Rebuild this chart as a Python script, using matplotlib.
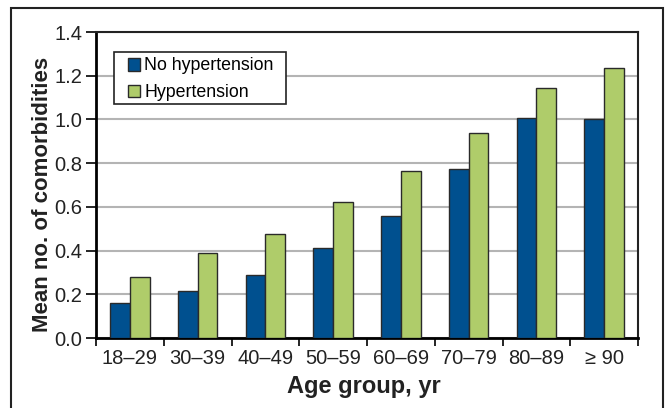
import matplotlib.pyplot as plt
import numpy as np
from matplotlib.patches import Rectangle

plt.rcParams['font.family'] = ['Liberation Sans', 'DejaVu Sans']

# Dados
grupos = ["18–29", "30–39", "40–49", "50–59", "60–69", "70–79", "80–89", "≥ 90"]
sem_hipertensao = [0.16, 0.214, 0.287, 0.41, 0.56, 0.773, 1.008, 1.0]
com_hipertensao = [0.278, 0.387, 0.474, 0.62, 0.764, 0.936, 1.142, 1.234]
rotulos_series = ["No hypertension", "Hypertension"]

azul = "#00508f"
verde = "#afcc6a"

W, H = 667, 408
fig = plt.figure(figsize=(W / 100, H / 100), dpi=100)
ax = fig.add_axes([96 / W, 1 - 338 / H, 542 / W, 306 / H])

x = np.arange(len(grupos))
largura = 0.29
ax.bar(x - largura / 2, sem_hipertensao, largura, color=azul, edgecolor="#2a2a2a",
       linewidth=1.0, label=rotulos_series[0], zorder=3)
ax.bar(x + largura / 2, com_hipertensao, largura, color=verde, edgecolor="#2a2a2a",
       linewidth=1.0, label=rotulos_series[1], zorder=3)

ax.set_xlim(-0.5, len(grupos) - 0.5)
ax.set_ylim(0, 1.4)
ax.set_yticks(np.arange(0, 1.41, 0.2))
ax.set_yticklabels([f"{v:.1f}" for v in np.arange(0, 1.41, 0.2)])
ax.yaxis.grid(True, color="#b4b4b4", linewidth=1.5, zorder=0)

# Ticks do eixo x nos limites das categorias
ax.set_xticks(np.arange(-0.5, len(grupos), 1.0))
ax.set_xticklabels([])
ax.set_xticks(x, minor=True)
ax.set_xticklabels(grupos, minor=True)
ax.tick_params(axis="x", which="minor", length=0, pad=8, labelsize=14.5, labelcolor="#222222")
ax.tick_params(axis="x", which="major", length=6, width=1.2, direction="out")
ax.tick_params(axis="y", length=7, width=1.2, labelsize=14.5, labelcolor="#222222", pad=3)

for lado in ["left", "bottom"]:
    ax.spines[lado].set_linewidth(2)
    ax.spines[lado].set_color("black")
for lado in ["top", "right"]:
    ax.spines[lado].set_linewidth(1.5)
    ax.spines[lado].set_color("#222222")

# Títulos dos eixos posicionados à mão
fig.text(48 / W, 1 - 194.5 / H, "Mean no. of comorbidities", fontsize=16, fontweight="bold",
         rotation=90, rotation_mode="anchor", ha="center", va="baseline", color="#222222")
fig.text(364 / W, 1 - 393 / H, "Age group, yr", fontsize=17, fontweight="bold",
         ha="center", va="baseline", color="#222222")

# Caixa da legenda desenhada à mão (padding assimétrico)
caixa = Rectangle((114 / W, 1 - 104 / H), 172 / W, 52 / H, transform=fig.transFigure,
                  facecolor="white", edgecolor="#222222", linewidth=1.2,
                  zorder=4, clip_on=False)
ax.add_patch(caixa)
leg = ax.legend(loc="upper left", bbox_to_anchor=(128 / W, 1 - 57.5 / H),
                bbox_transform=fig.transFigure, fontsize=12.8, frameon=False,
                handlelength=0.7, handleheight=0.7, handletextpad=0.2,
                borderpad=0, labelspacing=0.55, borderaxespad=0)
leg.set_zorder(5)

# Moldura externa
fig.patches.append(Rectangle((11 / W, -0.01), 652 / W, 1 - 8 / H + 0.01,
                             transform=fig.transFigure, fill=False,
                             edgecolor="#222222", linewidth=1.5))

fig.savefig("out.png", dpi=100)
